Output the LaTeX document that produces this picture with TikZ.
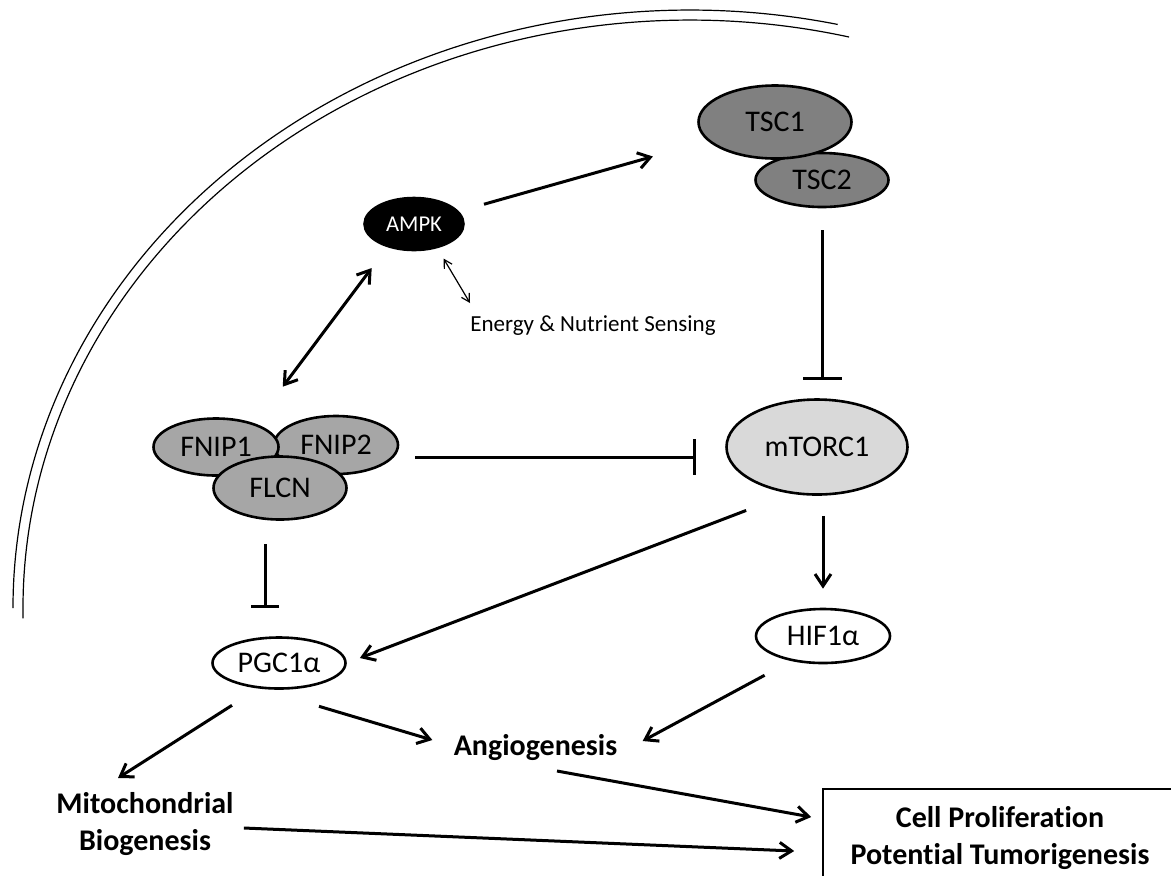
\documentclass[tikz,border=0pt]{standalone}
\usepackage{fontspec}
\setmainfont[Ligatures=NoCommon]{Carlito}
\usepackage{tikz}
\usetikzlibrary{arrows.meta,shapes.geometric}
\definecolor{tscgray}{RGB}{128,128,128}
\definecolor{fnipgray}{RGB}{166,166,166}
\definecolor{mtorgray}{RGB}{217,217,217}
\tikzset{lbl/.style={font=\fontsize{15}{18.5}\selectfont}}

\begin{document}
\begin{tikzpicture}[x=0.5pt, y=-0.5pt,
		membrane/.style={line width=0.6pt},
		prot/.style={ellipse, draw, line width=1.3pt, inner sep=0pt, lbl},
		outcome/.style={lbl, font=\bfseries\fontsize{15}{18.5}\selectfont, align=center, inner sep=0pt},
		act/.style={line width=1.5pt, -{Straight Barb[length=6pt,width=8pt]}},
		both/.style={line width=1.5pt, {Straight Barb[length=6pt,width=8pt]}-{Straight Barb[length=6pt,width=8pt]}},
		thinboth/.style={line width=0.6pt, {Straight Barb[length=4pt,width=4.5pt]}-{Straight Barb[length=4pt,width=4.5pt]}},
		inh/.style={line width=1.5pt, -{Bar[width=#1]}}]
		\useasboundingbox (0,0) rectangle (1171,875);
		\clip (0,0) rectangle (1171,875);
		% cell membrane
		\draw[membrane] (13,608) arc[start angle=180, end angle=282.6, x radius=677, y radius=598];
		\draw[membrane] (23.1,618.3) arc[start angle=179, end angle=283.8, x radius=667, y radius=588];
		% proteins
		\node(TSCb)[prot, fill=tscgray, minimum width=66.5pt, minimum height=27pt] at (822,180){TSC2};
		\node(TSCa)[prot, fill=tscgray, minimum width=76.5pt, minimum height=36.5pt] at (775,122){TSC1};
		\node(AMPK)[prot, fill=black, text=white, minimum width=49.5pt, minimum height=26pt, font=\fontsize{11.3}{13}\selectfont] at (414,224){AMPK};
		\node(ES)[anchor=base west, inner sep=0pt, font=\fontsize{11.5}{13}\selectfont] at (470,331){Energy \& Nutrient Sensing};
		\node(FNIPb)[prot, fill=fnipgray, minimum width=62pt, minimum height=29pt] at (336,445){FNIP2};
		\node(FNIPa)[prot, fill=fnipgray, minimum width=62.5pt, minimum height=28.5pt] at (216,447){FNIP1};
		\node(FLCN)[prot, fill=fnipgray, minimum width=66.5pt, minimum height=31.5pt] at (280,488){FLCN};
		\node(mTOR)[prot, fill=mtorgray, minimum width=90.5pt, minimum height=47.5pt] at (817,447){mTORC1};
		\node(HIF)[prot, fill=white, minimum width=67pt, minimum height=27pt] at (823,636){HIF1α};
		\node(PGC)[prot, fill=white, minimum width=66.5pt, minimum height=25.5pt] at (279,663){PGC1α};
		% outcomes
		\node(ANG)[outcome, anchor=base] at (535.5,755){Angiogenesis};
		\node(MITO)[outcome] at (145,824){Mitochondrial\\Biogenesis};
		\node(PROLIF)[outcome, draw, line width=0.8pt, minimum width=177pt, minimum height=49pt] at (1000,838){Cell Proliferation\\Potential Tumorigenesis};
		% signalling
		\draw[act, shorten <=13pt, shorten >=28.5pt](AMPK) to (TSCa);
		\draw[inh=19.5pt, shorten <=11pt, shorten >=9.25pt](TSCb.south) to (TSCb.south |- mTOR.north);
		\draw[inh=18pt, shorten <=10.8pt, shorten >=14.75pt](FNIPb.-12) to (FNIPb.-12 -| mTOR.west);
		\draw[inh=14pt, shorten <=11.75pt, shorten >=14.25pt]([xshift=-7.5pt]FLCN.south) to ([xshift=-7.5pt]FLCN.south |- PGC.north);
		\draw[both, shorten <=23pt, shorten >=13pt](FNIPa.31) to (AMPK.221);
		\draw[thinboth, shorten <=6pt](AMPK.-46) to ([yshift=14pt]ES.base west);
		\draw[act, shorten <=23.5pt, shorten >=7pt](mTOR.240) to (PGC.east);
		\draw[act, shorten <=10pt, shorten >=9.5pt](HIF.north |- mTOR.south) to (HIF.north);
		\draw[act, shorten <=15pt](HIF.218) to ([xshift=12.5pt,yshift=7pt]ANG.base east);
		\draw[act]([xshift=20pt,yshift=-8.25pt]PGC.south) to ([xshift=-10.5pt,yshift=7.5pt]ANG.base west);
		\draw[act]([xshift=-23.5pt,yshift=-7.75pt]PGC.south) to ([xshift=-13.5pt,yshift=23pt]MITO.center);
		\draw[act]([xshift=10.75pt,yshift=-8pt]ANG.base) to ([xshift=-5.5pt,yshift=10.5pt]PROLIF.west);
		\draw[act]([xshift=5pt,yshift=-2pt]MITO.east) to ([xshift=-14pt,yshift=-6.5pt]PROLIF.west);
	\end{tikzpicture}
\end{document}
